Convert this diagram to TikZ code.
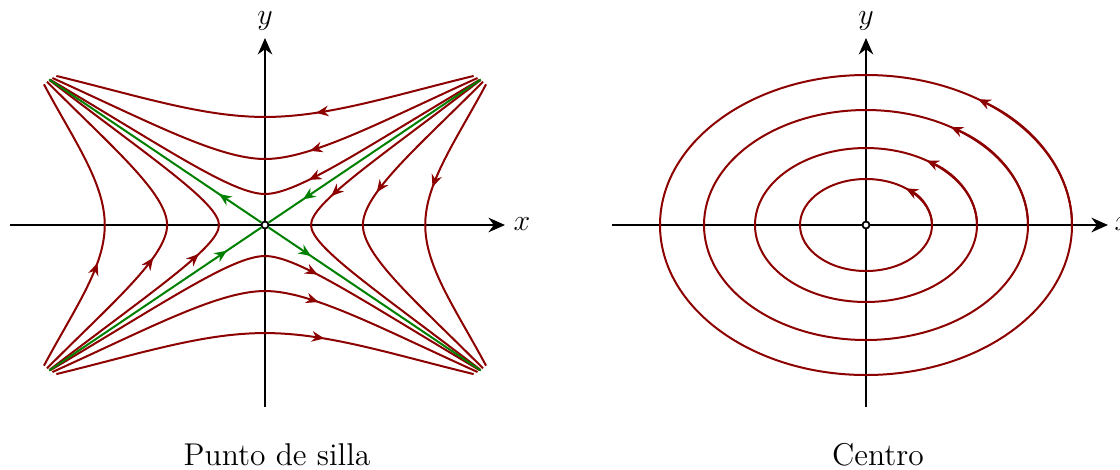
\documentclass[tikz,border=0pt]{standalone}
\usetikzlibrary{arrows.meta,decorations.markings}
\definecolor{trajred}{RGB}{140,0,0}
\definecolor{sepgreen}{RGB}{0,128,0}
\tikzset{
  axisx/.style={line width=1pt,-{Stealth[length=6.6pt,width=5.8pt]}},
  axisy/.style={line width=0.5pt,-{Stealth[length=6.6pt,width=5.8pt]}},
  trajline/.style={trajred,line width=0.8pt},
  sepline/.style={sepgreen,line width=0.8pt},
  flowtip/.style={postaction={decorate},decoration={markings,mark=at position #1 with {\arrow{Stealth[length=5pt,width=4.2pt]}}}},
  ellipsetip/.style={-{Stealth[length=5pt,width=4.2pt]}},
  originpt/.style={circle,draw,fill=white,line width=0.7pt,inner sep=0pt,minimum size=2.8pt},
  lbl/.style={inner sep=0pt,font=\fontsize{12}{14}\selectfont},
  captiontext/.style={inner sep=0pt,anchor=base,font=\fontsize{12.6}{15}\selectfont}
}
% template trajectory of the upper family: from (ex,ey) through (0,v) to (-ex,ey)
\newcommand{\flowcurve}[7]{%
  \draw[trajline,flowtip=#7] (#1,#2) .. controls ({#1-#5*#1},{#2-#4*#5*#1}) and ({#6*#1},#3) .. (0,#3) .. controls ({-#6*#1},#3) and ({-#1+#5*#1},{#2-#4*#5*#1}) .. (-#1,#2);}
\begin{document}
\begin{tikzpicture}[x=0.4pt,y=-0.4pt]
\useasboundingbox (0,0) rectangle (1120,469);

% ---------------- left panel: saddle ----------------
\draw[axisx] (10,225) -- (505,225);
\draw[axisy] (265,407) -- (265,38);
\node[lbl] (xl1) at (522,224) {$x$};
\node[lbl] (yl1) at (265,21) {$y$};
\node[originpt] (o1) at (265,225) {};

\begin{scope}[shift={(265,225)}]
  % top family (flow right to left)
  \begin{scope}[x={(87.2pt,0pt)},y={(0pt,58.8pt)}]
    \flowcurve{0.957}{1.014}{0.735}{0.36}{0.40}{0.30}{0.38}
    \flowcurve{0.975}{1.000}{0.449}{0.67}{0.45}{0.22}{0.40}
    \flowcurve{0.985}{0.988}{0.211}{0.88}{0.55}{0.15}{0.405}
    \coordinate (ul) at (-0.99,0.99);
    \coordinate (ur) at (0.99,0.99);
    \coordinate (ll) at (-0.99,-0.99);
    \coordinate (lr) at (0.99,-0.99);
  \end{scope}
  % bottom family (flow left to right)
  \begin{scope}[x={(-87.2pt,0pt)},y={(0pt,-58.8pt)}]
    \flowcurve{0.957}{1.014}{0.735}{0.36}{0.40}{0.30}{0.64}
    \flowcurve{0.975}{1.000}{0.449}{0.67}{0.45}{0.22}{0.62}
    \flowcurve{0.985}{0.988}{0.211}{0.88}{0.55}{0.15}{0.615}
  \end{scope}
  % right family (flow top to bottom)
  \begin{scope}[x={(0pt,58.8pt)},y={(87.2pt,0pt)}]
    \flowcurve{0.957}{1.014}{0.735}{0.36}{0.40}{0.30}{0.375}
    \flowcurve{0.975}{1.000}{0.449}{0.67}{0.45}{0.22}{0.405}
    \flowcurve{0.985}{0.988}{0.211}{0.88}{0.55}{0.15}{0.42}
  \end{scope}
  % left family (flow bottom to top)
  \begin{scope}[x={(0pt,-58.8pt)},y={(-87.2pt,0pt)}]
    \flowcurve{0.957}{1.014}{0.735}{0.36}{0.40}{0.30}{0.375}
    \flowcurve{0.975}{1.000}{0.449}{0.67}{0.45}{0.22}{0.405}
    \flowcurve{0.985}{0.988}{0.211}{0.88}{0.55}{0.15}{0.42}
  \end{scope}
\end{scope}

% separatrices
\draw[sepline,flowtip=0.2] (o1) -- (ul);
\draw[sepline,flowtip=0.2] (o1) -- (lr);
\draw[sepline,flowtip=0.84] (ur) -- (o1);
\draw[sepline,flowtip=0.84] (ll) -- (o1);

% ---------------- right panel: centre ----------------
\draw[axisx] (612,225) -- (1108,225);
\draw[axisy] (866,407) -- (866,38);
\node[lbl] (yl2) at (866,21) {$y$};
\node[lbl] (xl2) at (1123,224) {$x$};
\begin{scope}[shift={(866,225)},x=0.4pt,y=0.4pt]
  \draw[trajline] (0,0) ellipse [x radius=206,y radius=150];
  \draw[trajline] (0,0) ellipse [x radius=162,y radius=115];
  \draw[trajline] (0,0) ellipse [x radius=111,y radius=77];
  \draw[trajline] (0,0) ellipse [x radius=66,y radius=46];
  \draw[trajline,ellipsetip] (206,0) arc[start angle=0,end angle=57,x radius=206,y radius=150];
  \draw[trajline,ellipsetip] (162,0) arc[start angle=0,end angle=58.5,x radius=162,y radius=115];
  \draw[trajline,ellipsetip] (111,0) arc[start angle=0,end angle=57,x radius=111,y radius=77];
  \draw[trajline,ellipsetip] (66,0) arc[start angle=0,end angle=53,x radius=66,y radius=46];
\end{scope}
\node[originpt] (o2) at (866,225) {};

% captions
\node[captiontext] (c1) at (277,465) {Punto de silla};
\node[captiontext] (c2) at (878,465) {Centro};
\end{tikzpicture}
\end{document}
